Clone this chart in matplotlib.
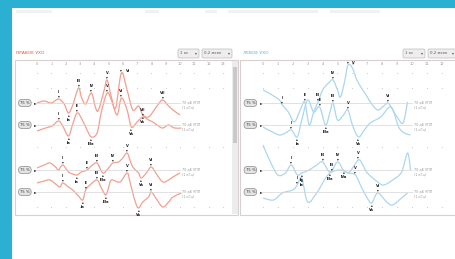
import matplotlib
matplotlib.use("Agg")
import matplotlib.pyplot as plt
from matplotlib.patches import Rectangle, FancyBboxPatch, PathPatch
from matplotlib.path import Path

# ---------------- data ----------------
col_labels_left = ["0", "1", "2", "3", "4", "5", "6", "7", "8", "9", "10", "11", "12", "13"]
col_labels_right = ["0", "1", "2", "3", "4", "5", "6", "7", "8", "9", "10", "11", "12"]
left_title = "ПРАВОЕ УХО"
right_title = "ЛЕВОЕ УХО"
pill_text = "75 %"
level_text = "70 дБ УПП\n(1 кГц)"
dropdown_1 = "1 кс"
dropdown_2 = "0,2 мсек"
baselines = [43, 65, 110, 132]

# left panel (right ear) traces: x in ms columns, y in level units (down = larger)
rA_x = [0, 0.5, 1.0, 1.5, 1.9, 2.2, 2.5, 2.9, 3.1, 3.4, 3.8, 4.1, 4.3, 4.7, 4.9, 5.2, 5.5, 5.9,
        6.3, 6.7, 7.1, 7.4, 7.8, 8.1, 8.5, 8.8, 9.2, 9.6, 10.0]
rA_y = [43, 41, 43, 39, 44, 53, 45, 28, 37, 44, 33, 48, 50, 30, 20, 37, 48, 13,
        30, 50, 46, 55, 57, 52, 44, 40, 46, 51, 55]
rB_x = [0, 0.6, 1.05, 1.5, 1.8, 2.2, 2.5, 2.8, 3.1, 3.5, 3.8, 4.2, 4.5, 4.9, 5.2, 5.6, 5.9, 6.3,
        6.6, 7.0, 7.4, 7.8, 8.1, 8.5, 8.8, 9.2, 9.6, 10.1]
rB_y = [71, 68, 66, 61, 66, 76, 64, 53, 58, 70, 77, 73, 52, 33, 40, 55, 38, 50,
        67, 62, 57, 60, 62, 66, 68, 65, 68, 68]
rC_x = [0, 0.5, 0.9, 1.3, 1.5, 1.8, 2.2, 2.5, 2.8, 3.1, 3.5, 3.8, 4.2, 4.6, 5.0, 5.3, 5.7, 6.0,
        6.3, 6.5, 6.7, 7.1, 7.3, 7.7, 8.0, 8.4, 8.8, 9.2, 9.5, 10.0]
rC_y = [108, 105, 103, 107, 110, 105, 112, 114, 115, 112, 110, 106, 103, 113, 108, 103, 102, 98,
        93, 100, 107, 113, 118, 112, 107, 115, 122, 120, 117, 113]
rD_x = [0, 0.5, 0.9, 1.3, 1.6, 1.8, 2.2, 2.5, 2.9, 3.2, 3.4, 3.7, 4.2, 4.5, 4.8, 5.0, 5.2, 5.8,
        6.3, 6.5, 6.7, 6.9, 7.1, 7.4, 7.8, 8.0, 8.4, 8.8, 9.2, 9.5, 10.1]
rD_y = [123, 121, 120, 124, 127, 123, 127, 130, 136, 140, 130, 125, 120, 128, 135, 128, 120, 122,
        113, 122, 133, 143, 148, 142, 137, 132, 140, 147, 142, 137, 133]

# right panel (left ear) traces
lE_x = [0, 0.5, 1.1, 1.3, 1.7, 2.1, 2.5, 2.8, 3.1, 3.4, 3.7, 4.0, 4.4, 4.7, 5.0, 5.2, 5.5, 5.7,
        6.0, 6.3, 6.7, 7.0, 7.3, 7.7, 8.1, 8.4, 8.7, 9.0, 9.4, 9.7]
lE_y = [30, 34, 40, 45, 52, 62, 50, 42, 65, 52, 42, 30, 23, 20, 30, 37, 20, 5,
        8, 20, 30, 37, 44, 50, 46, 43, 50, 57, 63, 42]
lF_x = [0, 0.5, 1.1, 1.5, 1.9, 2.3, 2.6, 3.0, 3.4, 3.8, 4.2, 4.5, 4.7, 5.0, 5.4, 5.7, 6.0, 6.4,
        6.8, 7.2, 7.9, 8.6, 9.1, 9.5, 9.9]
lF_y = [67, 71, 75, 73, 70, 77, 60, 40, 52, 47, 65, 52, 43, 60, 55, 50, 65, 77,
        70, 63, 57, 47, 67, 73, 75]
lG_x = [0, 0.5, 1.0, 1.5, 1.9, 2.3, 2.6, 3.1, 3.6, 4.0, 4.5, 5.0, 5.4, 5.8, 6.4, 6.7, 7.0, 7.7,
        8.1, 8.7, 9.3, 9.7, 9.9]
lG_y = [85, 102, 115, 113, 105, 115, 113, 110, 105, 102, 112, 102, 110, 112, 100, 105, 113, 122,
        125, 120, 112, 93, 110]
lH_x = [0, 0.7, 1.3, 2.0, 2.3, 2.6, 3.0, 3.6, 4.2, 4.6, 5.2, 5.7, 6.2, 6.6, 7.0, 7.3, 7.7, 8.3,
        8.7, 9.3, 9.7]
lH_y = [138, 140, 133, 130, 125, 118, 142, 133, 118, 112, 110, 113, 115, 127, 138, 143, 133, 142,
        145, 138, 133]

# peak / trough labels: (index into series, label, 'p' peak or 't' trough)
rA_marks = [(3, "I", "p"), (5, "Ia", "t"), (7, "III", "p"), (10, "IV", "p"), (14, "V", "p"),
            (17, "VI", "p"), (21, "Va", "t"), (25, "VII", "p")]
rB_marks = [(3, "I", "p"), (5, "Ia", "t"), (7, "II", "p"), (10, "IIIa", "t"), (13, "V", "p"),
            (16, "VI", "p"), (18, "Va", "t"), (20, "VII", "p")]
rC_marks = [(5, "I", "p"), (8, "Ia", "t"), (10, "II", "p"), (12, "III", "p"), (13, "IIIa", "t"),
            (15, "IV", "p"), (18, "V", "p"), (22, "Va", "t"), (24, "VI", "p")]
rD_marks = [(5, "I", "p"), (9, "Ia", "t"), (10, "II", "p"), (12, "III", "p"), (14, "IIIa", "t"),
            (18, "V", "p"), (22, "Va", "t"), (25, "VI", "p")]
lE_marks = [(3, "I", "p"), (7, "II", "p"), (10, "III", "p"), (13, "IV", "p"), (17, "V", "p"),
            (25, "VI", "p")]
lF_marks = [(4, "I", "p"), (5, "Ia", "t"), (9, "II", "p"), (10, "IIIa", "t"), (12, "III", "p"),
            (15, "V", "p"), (17, "Va", "t")]
lG_marks = [(4, "I", "p"), (6, "Ia", "t"), (9, "III", "p"), (10, "IIIa", "t"), (11, "IV", "p"),
            (12, "IVa", "t"), (14, "V", "p")]
lH_marks = [(4, "I", "p"), (5, "Ia", "t"), (9, "III", "p"), (12, "V", "p"), (15, "Va", "t"),
            (16, "VI", "p")]

# ---------------- style ----------------
W, H = 456, 259
CYAN = "#2cb0d1"
RED_LINE = "#f2a090"
BLUE_LINE = "#acd6f0"
RED_TXT = "#e8533f"
BLUE_TXT = "#5aaee3"
GRAY_TXT = "#9a9a9a"

fig = plt.figure(figsize=(W / 100, H / 100), dpi=100)
fig.patch.set_facecolor("white")

bg = fig.add_axes([0, 0, 1, 1])
bg.set_xlim(0, W)
bg.set_ylim(H, 0)
bg.axis("off")

# cyan frame
bg.add_patch(Rectangle((0, 0), 12, H, color=CYAN, lw=0))
bg.add_patch(Rectangle((0, 0), W, 8, color=CYAN, lw=0))

# faint header text at top
for x0, w in [(16, 36), (145, 14), (205, 12), (228, 90), (330, 50)]:
    bg.add_patch(Rectangle((x0, 10), w, 3, color="#f1f1f1", lw=0))

# panel frames
bg.add_patch(Rectangle((15, 60), 223, 155, fill=False, ec="#d8cfcf", lw=0.8))
bg.add_patch(Rectangle((240, 60), 216, 155, fill=False, ec="#d8cfcf", lw=0.8))
# scrollbar
bg.add_patch(Rectangle((232, 61), 6, 153, color="#ececec", lw=0))
bg.add_patch(Rectangle((233, 67), 4, 76, color="#c9c9c9", lw=0))

# titles and dropdowns
bg.text(16, 53.5, left_title, color=RED_TXT, fontsize=3.2, va="center", ha="left")
bg.text(243, 53.5, right_title, color=BLUE_TXT, fontsize=3.2, va="center", ha="left")
for (x0, w, t) in [(178, 21, dropdown_1), (202, 30, dropdown_2),
                   (403, 22, dropdown_1), (428, 28, dropdown_2)]:
    bg.add_patch(FancyBboxPatch((x0, 49), w, 9, boxstyle="round,pad=0,rounding_size=1.5",
                                fc="#eeeeee", ec="#bbbbbb", lw=0.5))
    bg.text(x0 + 2, 53.5, t, fontsize=2.8, color="#555555", va="center", ha="left")
    bg.text(x0 + w - 2, 53.5, "▾", fontsize=2.8, color="#555555", va="center", ha="right")


def smooth_path(xs, ys):
    """Catmull-Rom curve through the read points, drawn as cubic Bezier segments."""
    pts = list(zip(xs, ys))
    verts = [pts[0]]
    codes = [Path.MOVETO]
    n = len(pts)
    for i in range(n - 1):
        p0 = pts[i - 1] if i > 0 else pts[i]
        p1 = pts[i]
        p2 = pts[i + 1]
        p3 = pts[i + 2] if i + 2 < n else pts[i + 1]
        c1 = (p1[0] + (p2[0] - p0[0]) / 6, p1[1] + (p2[1] - p0[1]) / 6)
        c2 = (p2[0] - (p3[0] - p1[0]) / 6, p2[1] - (p3[1] - p1[1]) / 6)
        verts += [c1, c2, p2]
        codes += [Path.CURVE4] * 3
    return Path(verts, codes)


def make_panel(px0, px1, col0, colstep, labels, traces, color):
    ax = fig.add_axes([px0 / W, 1 - 215 / H, (px1 - px0) / W, 155 / H])
    ax.set_xlim((px0 - col0) / colstep, (px1 - col0) / colstep)
    ax.set_ylim(155, 0)
    ax.axis("off")
    ax.patch.set_alpha(0)
    ncol = len(labels)
    # column labels
    for i, lab in enumerate(labels):
        ax.text(i, 4, lab, fontsize=2.6, color=GRAY_TXT, ha="center", va="center")
    # dot grid
    for yy in [13, 28, 87, 147]:
        ax.scatter(range(ncol), [yy] * ncol, s=0.6, color="#c8c8c8", lw=0)
    # baselines, pills, level text
    xr = 10.0
    for b in baselines:
        ax.plot([0, xr], [b, b], color="#d5d5d5", lw=0.5)
        ax.text(-0.85, b, pill_text, fontsize=2.7, color="#333333", ha="center", va="center",
                bbox=dict(boxstyle="round,pad=0.4,rounding_size=0.9", fc="#e4e4e4",
                          ec="#8a8a8a", lw=0.5))
        ax.text(-0.12, b, "►", fontsize=2.6, color="#222222", ha="center", va="center")
        ax.text(xr + 0.15, b + 2, level_text, fontsize=2.4, color=GRAY_TXT, ha="left",
                va="center", linespacing=1.1)
    # traces
    for xs, ys, marks in traces:
        ax.add_patch(PathPatch(smooth_path(xs, ys), fill=False, ec=color, lw=0.9,
                               joinstyle="round"))
        for idx, lab, kind in marks:
            x, y = xs[idx], ys[idx]
            if kind == "p":
                ax.text(x, y - 2.5, "▾", fontsize=2.6, color="#222222", ha="center", va="center")
                if y - 7 < 9:
                    ax.text(x + 0.3, y - 2.5, lab, fontsize=2.6, color="#222222", ha="left",
                            va="center", fontweight="bold")
                else:
                    ax.text(x, y - 7, lab, fontsize=2.6, color="#222222", ha="center",
                            va="center", fontweight="bold")
            else:
                ax.text(x, y + 2.5, "▴", fontsize=2.6, color="#222222", ha="center", va="center")
                ax.text(x, y + 7, lab, fontsize=2.6, color="#222222", ha="center", va="center",
                        fontweight="bold")
    return ax


make_panel(15, 232, 37, 14.3, col_labels_left,
           [(rA_x, rA_y, rA_marks), (rB_x, rB_y, rB_marks),
            (rC_x, rC_y, rC_marks), (rD_x, rD_y, rD_marks)], RED_LINE)
make_panel(240, 456, 263, 14.9, col_labels_right,
           [(lE_x, lE_y, lE_marks), (lF_x, lF_y, lF_marks),
            (lG_x, lG_y, lG_marks), (lH_x, lH_y, lH_marks)], BLUE_LINE)

fig.savefig("out.png", dpi=100, facecolor="white")
